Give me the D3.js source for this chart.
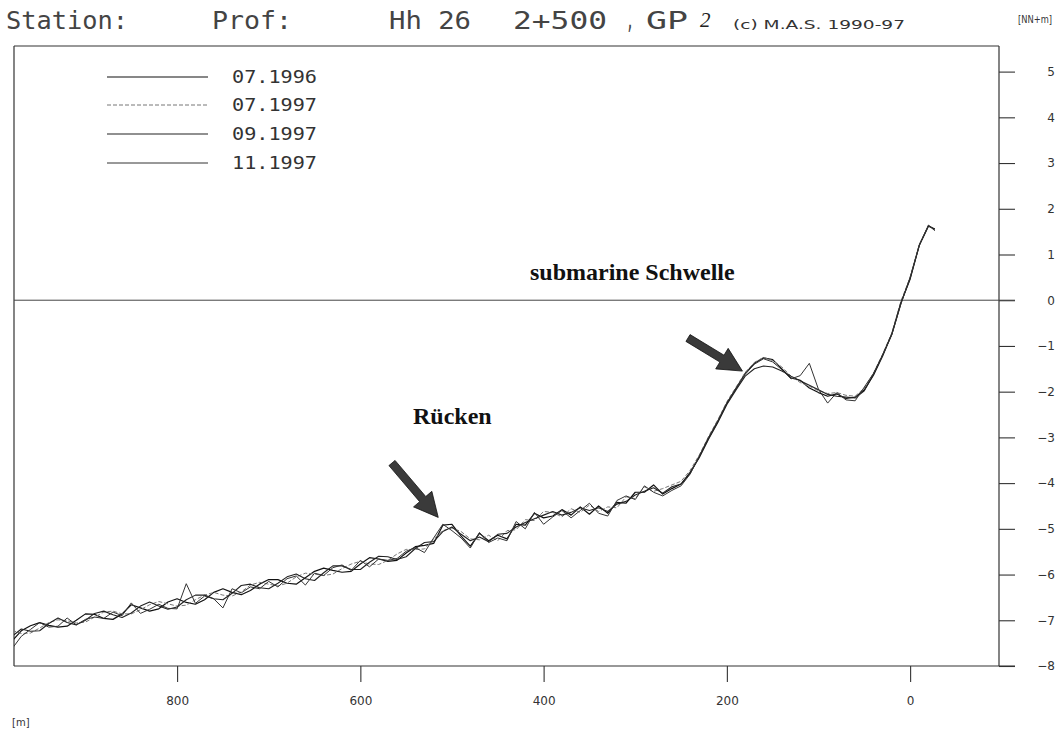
<!DOCTYPE html>
<html><head><meta charset="utf-8">
<script src="https://cdn.jsdelivr.net/npm/d3@7"></script>
<style>html,body{margin:0;padding:0;background:#fff;}svg{display:block;}</style>
</head><body>
<svg id="chart" width="1059" height="737"></svg>
<script>
// ---- data ----
const distances = [980,970,960,950,940,930,920,910,900,890,880,870,860,850,840,830,820,810,800,790,780,770,760,750,740,730,720,710,700,690,680,670,660,650,640,630,620,610,600,590,580,570,560,550,540,530,520,510,500,490,480,470,460,450,440,430,420,410,400,390,380,370,360,350,340,330,320,310,300,290,280,270,260,250,240,230,220,210,200,190,180,170,160,150,140,130,120,110,100,90,80,70,60,50,40,30,20,10,0,-10,-20,-27];
const s0796 = [-7.45,-7.23,-7.12,-7.05,-7.11,-7.15,-7.13,-7.00,-6.86,-6.87,-6.96,-6.98,-6.86,-6.66,-6.73,-6.80,-6.75,-6.60,-6.53,-6.61,-6.65,-6.55,-6.39,-6.31,-6.39,-6.44,-6.35,-6.21,-6.11,-6.11,-6.19,-6.21,-6.07,-5.93,-5.86,-5.91,-5.95,-5.93,-5.77,-5.63,-5.66,-5.71,-5.69,-5.53,-5.39,-5.36,-5.32,-4.92,-4.90,-5.16,-5.38,-5.10,-5.26,-5.14,-5.22,-4.90,-4.92,-4.66,-4.76,-4.72,-4.58,-4.70,-4.52,-4.68,-4.50,-4.66,-4.42,-4.44,-4.20,-4.20,-4.04,-4.24,-4.12,-4.02,-3.78,-3.42,-3.02,-2.66,-2.26,-1.93,-1.60,-1.38,-1.26,-1.30,-1.50,-1.70,-1.75,-1.92,-2.02,-2.10,-2.05,-2.15,-2.12,-1.96,-1.64,-1.22,-0.74,-0.06,0.48,1.20,1.63,1.55];
const s0797 = [-7.22,-7.29,-7.28,-7.17,-7.05,-6.99,-7.01,-7.06,-7.04,-6.93,-6.82,-6.80,-6.86,-6.86,-6.77,-6.66,-6.59,-6.64,-6.69,-6.67,-6.55,-6.45,-6.39,-6.45,-6.47,-6.38,-6.23,-6.17,-6.21,-6.25,-6.19,-6.05,-5.97,-5.99,-6.02,-5.99,-5.87,-5.77,-5.71,-5.77,-5.78,-5.69,-5.55,-5.45,-5.45,-5.44,-5.22,-5.04,-4.98,-5.06,-5.22,-5.24,-5.14,-5.26,-5.04,-5.02,-4.80,-4.82,-4.62,-4.64,-4.74,-4.56,-4.64,-4.48,-4.62,-4.52,-4.54,-4.30,-4.34,-4.08,-4.18,-4.12,-4.04,-3.96,-3.72,-3.38,-2.98,-2.62,-2.22,-1.90,-1.58,-1.36,-1.25,-1.32,-1.46,-1.66,-1.80,-1.88,-1.98,-2.04,-2.02,-2.08,-2.10,-1.92,-1.60,-1.18,-0.72,-0.02,0.50,1.22,1.64,1.54];
const s0997 = [-7.35,-7.19,-7.24,-7.23,-7.07,-6.95,-7.05,-7.10,-7.00,-6.85,-6.80,-6.88,-6.94,-6.84,-6.69,-6.60,-6.69,-6.76,-6.71,-6.55,-6.45,-6.45,-6.53,-6.55,-6.41,-6.24,-6.21,-6.29,-6.31,-6.19,-6.05,-5.99,-6.09,-6.13,-5.96,-5.81,-5.81,-5.89,-5.89,-5.73,-5.60,-5.61,-5.67,-5.61,-5.43,-5.30,-5.28,-5.06,-4.96,-5.12,-5.26,-5.18,-5.28,-5.12,-5.10,-4.96,-4.86,-4.78,-4.70,-4.62,-4.70,-4.64,-4.54,-4.60,-4.54,-4.62,-4.46,-4.40,-4.26,-4.18,-4.10,-4.22,-4.08,-4.02,-3.76,-3.44,-3.04,-2.68,-2.28,-1.96,-1.66,-1.50,-1.44,-1.46,-1.55,-1.66,-1.76,-1.86,-1.96,-2.06,-2.10,-2.12,-2.14,-1.98,-1.62,-1.20,-0.74,-0.05,0.46,1.20,1.62,1.56];
const s1197 = [-7.62,-7.35,-7.20,-7.05,-7.15,-7.13,-6.95,-7.10,-6.98,-6.93,-6.96,-6.82,-6.90,-6.62,-6.85,-6.76,-6.65,-6.74,-6.75,-6.20,-6.63,-6.47,-6.53,-6.73,-6.31,-6.40,-6.27,-6.31,-6.15,-6.27,-6.09,-6.03,-6.23,-5.97,-6.02,-5.85,-5.79,-5.91,-5.69,-5.83,-5.66,-5.69,-5.65,-5.49,-5.41,-5.52,-5.20,-4.90,-5.04,-5.20,-5.42,-5.08,-5.30,-5.20,-5.26,-4.84,-5.00,-4.64,-4.90,-4.74,-4.60,-4.76,-4.60,-4.44,-4.66,-4.72,-4.38,-4.28,-4.36,-4.06,-4.20,-4.28,-4.16,-4.06,-3.80,-3.40,-3.00,-2.64,-2.24,-1.92,-1.62,-1.40,-1.28,-1.35,-1.52,-1.72,-1.65,-1.38,-1.95,-2.25,-2.02,-2.18,-2.20,-1.90,-1.60,-1.20,-0.76,-0.08,0.50,1.20,1.64,1.52];
const seriesNames = ["07.1996","07.1997","09.1997","11.1997"];
const seriesValues = [s0796, s0797, s0997, s1197];
const yTicks = [5,4,3,2,1,0,-1,-2,-3,-4,-5,-6,-7,-8];
const xTicks = [800,600,400,200,0];
const titleParts = [["Station:",6,122],["Prof:",212,80],["Hh 26",389,82],["2+500",513,94],[",",626,8],["GP",646,42]];

// ---- styles ----
const styles = [
  {stroke:"#111", width:1.2, dash:null},
  {stroke:"#777", width:1.0, dash:"4,2"},
  {stroke:"#222", width:1.1, dash:null},
  {stroke:"#333", width:1.0, dash:null}
];

const svg = d3.select("#chart");
const L = 14, R = 999, T = 46, B = 666;
const x = d3.scaleLinear().domain([978, -97]).range([L, R]);
const y = d3.scaleLinear().domain([-8, 5.56]).range([B, T]);

// title
const tg = svg.append("g").attr("font-family","DejaVu Sans Mono").attr("fill","#444");
titleParts.forEach(p => {
  tg.append("text").attr("x",p[1]).attr("y",29).attr("font-size",25)
    .attr("textLength",p[2]).attr("lengthAdjust","spacingAndGlyphs").text(p[0]);
});
svg.append("text").attr("x",700).attr("y",27).attr("font-family","Liberation Serif")
  .attr("font-style","italic").attr("font-size",21).attr("fill","#222").text("2");
svg.append("text").attr("x",733).attr("y",29).attr("font-family","DejaVu Sans")
  .attr("font-size",12).attr("fill","#333").attr("textLength",172).attr("lengthAdjust","spacingAndGlyphs")
  .text("(c) M.A.S. 1990-97");
svg.append("text").attr("x",1018).attr("y",23).attr("font-family","DejaVu Sans")
  .attr("font-size",10).attr("fill","#333").attr("textLength",34).attr("lengthAdjust","spacingAndGlyphs")
  .text("[NN+m]");

// frame
const frame = svg.append("g").attr("stroke","#333").attr("stroke-width",1.2).attr("fill","none");
frame.append("line").attr("x1",L).attr("x2",R).attr("y1",T).attr("y2",T);
frame.append("line").attr("x1",L).attr("x2",L).attr("y1",T).attr("y2",B);
frame.append("line").attr("x1",R).attr("x2",R).attr("y1",T).attr("y2",B);

// right axis
const yAxis = d3.axisRight(y).tickValues(yTicks).tickSize(16).tickPadding(0).tickFormat(d=>String(d).replace("-","\u2212"));
const ya = svg.append("g").attr("transform",`translate(${R},0)`).call(yAxis);
ya.select(".domain").remove();
ya.selectAll(".tick line").attr("stroke","#333").attr("stroke-width",1.1);
ya.selectAll(".tick text").attr("x",56).attr("text-anchor","end").attr("font-family","DejaVu Sans")
  .attr("font-size",12).attr("fill","#333");

// bottom axis
const xAxis = d3.axisBottom(x).tickValues(xTicks).tickSize(16).tickPadding(14).tickFormat(d3.format("d"));
const xa = svg.append("g").attr("transform",`translate(0,${B})`).call(xAxis);
xa.select(".domain").remove();
xa.selectAll(".tick line").attr("stroke","#333").attr("stroke-width",1.1);
xa.selectAll(".tick text").attr("font-family","DejaVu Sans").attr("font-size",12).attr("fill","#333");
svg.append("line").attr("x1",L).attr("x2",R+16).attr("y1",B).attr("y2",B).attr("stroke","#333").attr("stroke-width",1.2);
svg.append("text").attr("x",12).attr("y",726).attr("font-family","DejaVu Sans").attr("font-size",10).attr("fill","#333").text("[m]");

// zero line
svg.append("line").attr("x1",L).attr("x2",R+16).attr("y1",y(0)).attr("y2",y(0)).attr("stroke","#444").attr("stroke-width",1);

// clip
svg.append("clipPath").attr("id","clip").append("rect").attr("x",L).attr("y",T).attr("width",R-L).attr("height",B-T);

const line = d3.line().x(d=>x(d[0])).y(d=>y(d[1]));
const lg = svg.append("g").attr("clip-path","url(#clip)");
seriesValues.forEach((vals,i)=>{
  const pts = distances.map((d,j)=>[d, vals[j]]);
  lg.append("path").datum(pts).attr("d",line).attr("fill","none")
    .attr("stroke",styles[i].stroke).attr("stroke-width",styles[i].width)
    .attr("stroke-dasharray",styles[i].dash).attr("stroke-linejoin","round");
});

// legend
const legY = [77,105,134,163];
seriesNames.forEach((n,i)=>{
  svg.append("line").attr("x1",107).attr("x2",208).attr("y1",legY[i]).attr("y2",legY[i])
    .attr("stroke",styles[i].stroke).attr("stroke-width",styles[i].width).attr("stroke-dasharray",styles[i].dash);
  svg.append("text").attr("x",232).attr("y",legY[i]+6).attr("font-family","DejaVu Sans Mono")
    .attr("font-size",17).attr("fill","#333").attr("textLength",85).attr("lengthAdjust","spacingAndGlyphs").text(n);
});

// annotations
function arrow(x0,y0,x1,y1){
  const dx=x1-x0, dy=y1-y0, len=Math.hypot(dx,dy), ux=dx/len, uy=dy/len, px=-uy, py=ux;
  const sw=4, hw=12, hl=24;
  const bx=x1-ux*hl, by=y1-uy*hl;
  const p=[[x0+px*sw,y0+py*sw],[bx+px*sw,by+py*sw],[bx+px*hw,by+py*hw],[x1,y1],[bx-px*hw,by-py*hw],[bx-px*sw,by-py*sw],[x0-px*sw,y0-py*sw]];
  svg.append("polygon").attr("points",p.map(q=>q.join(",")).join(" ")).attr("fill","#3a3a3a").attr("stroke","#111").attr("stroke-width",0.8);
}
arrow(392,463,x(515),y(-4.75));
arrow(688,338,x(183),y(-1.55));
svg.append("text").attr("x",530).attr("y",280).attr("font-family","Liberation Serif").attr("font-weight","bold")
  .attr("font-size",24).attr("fill","#111").text("submarine Schwelle");
svg.append("text").attr("x",413).attr("y",424).attr("font-family","Liberation Serif").attr("font-weight","bold")
  .attr("font-size",24).attr("fill","#111").text("Rücken");
</script>
</body></html>
